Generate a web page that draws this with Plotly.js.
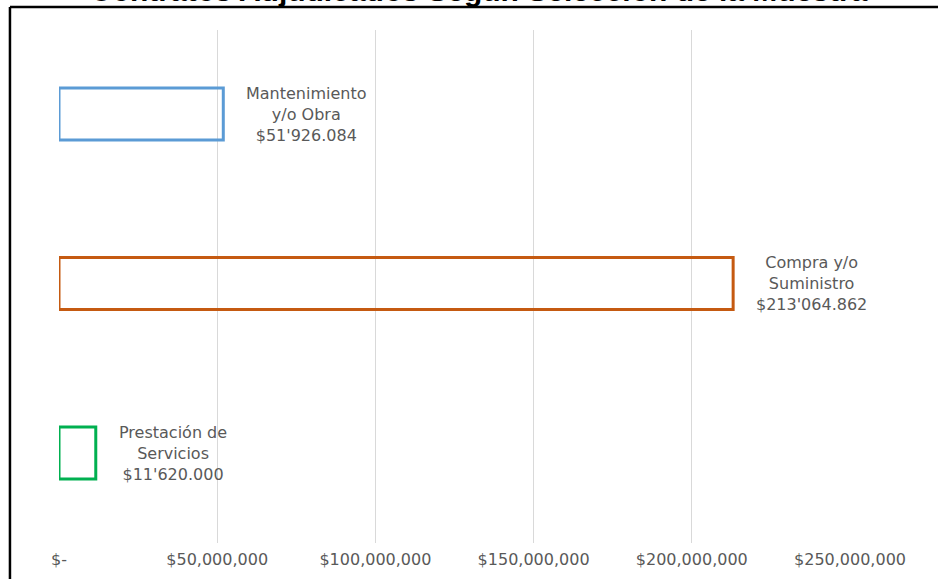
<!DOCTYPE html>
<html>
<head>
<meta charset="utf-8">
<script src="https://cdn.plot.ly/plotly-3.0.1.min.js"></script>
<style>
html,body{margin:0;padding:0;background:#fff;}
#chart{width:938px;height:579px;}
</style>
</head>
<body>
<div id="chart"></div>
<script>
const categories = ["Prestación de Servicios", "Compra y/o Suministro", "Mantenimiento y/o Obra"];
const values = [11620000, 213064862, 51926084];
const labelTexts = ["Prestación de<br>Servicios<br>$11'620.000", "Compra y/o<br>Suministro<br>$213'064.862", "Mantenimiento<br>y/o Obra<br>$51'926.084"];
const barColors = ["#00B050", "#C55A11", "#5B9BD5"];
const tickValues = [0, 50000000, 100000000, 150000000, 200000000, 250000000];
const tickLabels = ["$-", "$50,000,000", "$100,000,000", "$150,000,000", "$200,000,000", "$250,000,000"];
const titleText = "Contratos Adjudicados Según Selección de la Muestra";

const trace = {
  type: "bar",
  orientation: "h",
  x: values,
  y: categories,
  width: 0.307,
  marker: {color: "rgba(255,255,255,0)", line: {color: barColors, width: 3}},
  hoverinfo: "none"
};

const annotations = categories.map((c, i) => ({
  x: values[i], y: c, xref: "x", yref: "y",
  text: labelTexts[i], showarrow: false,
  xanchor: "left", yanchor: "middle", align: "center",
  xshift: 21,
  font: {family: "DejaVu Sans, sans-serif", size: 16, color: "#595959"}
}));
annotations.push({
  x: 0.531, y: 1.041, xref: "paper", yref: "paper",
  text: "<b>" + titleText + "</b>", showarrow: false,
  xanchor: "center", yanchor: "bottom",
  font: {family: "Liberation Sans, Arial, sans-serif", size: 30, color: "#000"}
});

const layout = {
  width: 938, height: 579,
  margin: {l: 59, r: 88, t: 30, b: 36},
  paper_bgcolor: "#fff", plot_bgcolor: "#fff",
  showlegend: false,
  xaxis: {
    range: [0, 250000000], tickvals: tickValues, ticktext: tickLabels,
    showgrid: true, gridcolor: "#d9d9d9", gridwidth: 1, zeroline: false,
    showline: false, ticks: "", ticklabelstandoff: 5,
    tickfont: {family: "DejaVu Sans, sans-serif", size: 16, color: "#595959"}
  },
  yaxis: {
    type: "category", showticklabels: false, showgrid: false, zeroline: false,
    showline: false, ticks: "", range: [-0.531, 2.496]
  },
  annotations: annotations,
  shapes: [
    {type: "line", xref: "paper", yref: "paper", x0: -0.062, x1: -0.062, y0: -0.2, y1: 1.045, line: {color: "#000", width: 2.5}},
    {type: "line", xref: "paper", yref: "paper", x0: -0.062, x1: 1.2, y0: 1.045, y1: 1.045, line: {color: "#000", width: 2.5}}
  ]
};

Plotly.newPlot("chart", [trace], layout, {displayModeBar: false, staticPlot: true});
</script>
</body>
</html>
